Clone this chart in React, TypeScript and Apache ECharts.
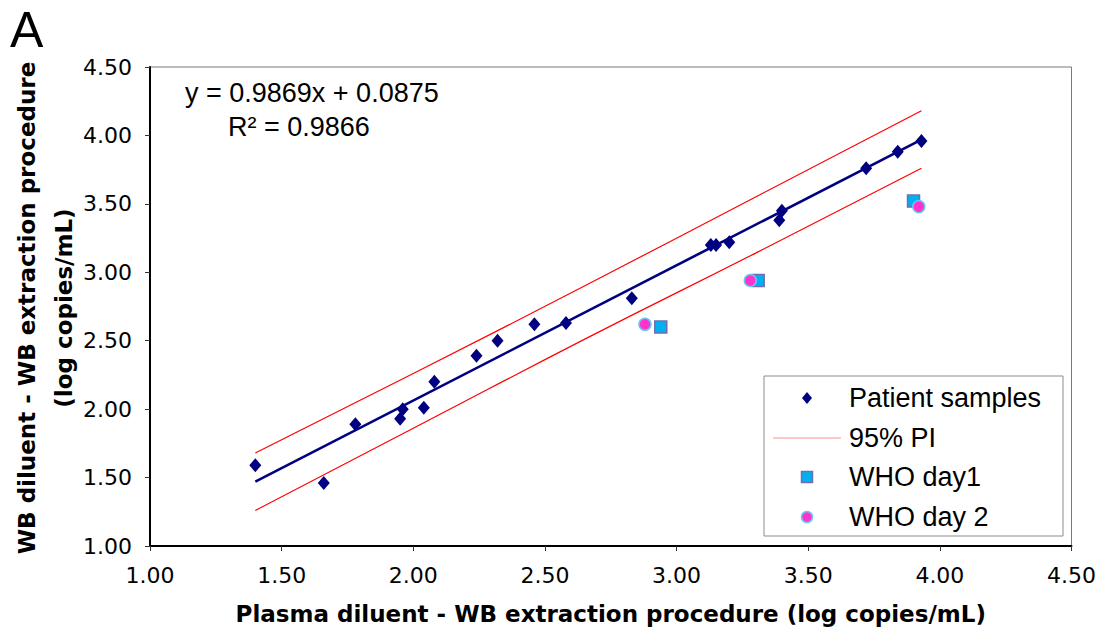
import React, { useEffect, useRef } from "react";
import * as echarts from "echarts";

const patientX = [1.40, 1.66, 1.78, 1.95, 1.96, 2.04, 2.08, 2.24, 2.32, 2.46, 2.58, 2.83, 3.13, 3.15, 3.20, 3.39, 3.40, 3.72, 3.84, 3.93];
const patientY = [1.59, 1.46, 1.89, 1.93, 2.00, 2.01, 2.20, 2.39, 2.50, 2.62, 2.63, 2.81, 3.20, 3.20, 3.22, 3.38, 3.45, 3.76, 3.88, 3.96];

const whoDay1X = [2.94, 3.31, 3.90];
const whoDay1Y = [2.60, 2.94, 3.52];
const whoDay2X = [2.88, 3.28, 3.92];
const whoDay2Y = [2.62, 2.94, 3.48];

const fitX = [1.40, 3.93];
const fitY = [1.47, 3.97];

const piX = [1.40, 2.00, 2.67, 3.30, 3.93];
const piUpper = [1.68, 2.26, 2.92, 3.55, 4.18];
const piLower = [1.26, 1.86, 2.53, 3.14, 3.76];

const tickValues = ["1.00", "1.50", "2.00", "2.50", "3.00", "3.50", "4.00", "4.50"];

const legendItems = ["Patient samples", "95% PI", "WHO day1", "WHO day 2"];
const equationText = "y = 0.9869x + 0.0875";
const r2Text = "R² = 0.9866";
const xTitle = "Plasma diluent - WB extraction procedure (log copies/mL)";
const yTitle = "WB diluent - WB extraction procedure\n(log copies/mL)";
const panelLabel = "A";

const zip = (xs: number[], ys: number[]) => xs.map((x, i) => [x, ys[i]]);

const NAVY = "#000080";
const TICK_FONT = "DejaVu Sans";
const TEXT_FONT = "Liberation Sans, Arial, sans-serif";

export default function App() {
  const ref = useRef<HTMLDivElement>(null);

  useEffect(() => {
    if (!ref.current) return;
    const chart = echarts.init(ref.current, undefined, { renderer: "svg" });

    const axisCommon = {
      type: "value" as const,
      min: 1,
      max: 4.5,
      interval: 0.5,
      splitLine: { show: false },
      axisLine: { show: true, onZero: false, lineStyle: { color: "#000", width: 2 } },
      axisTick: { show: true, length: 5, lineStyle: { color: "#333", width: 1 } },
      axisLabel: {
        fontSize: 22,
        fontFamily: TICK_FONT,
        color: "#000",
        margin: 18,
        formatter: (v: number) => tickValues[Math.round((v - 1) / 0.5)] ?? v.toFixed(2),
      },
    };

    const lx = 764, ly = 376;
    const legendRows = [398, 438, 477, 517];

    chart.setOption({
      animation: false,
      backgroundColor: "#fff",
      grid: {
        left: 150,
        top: 67,
        right: 26,
        bottom: 85,
        show: true,
        borderColor: "#7a7a7a",
        borderWidth: 1,
        backgroundColor: "transparent",
      },
      xAxis: {
        ...axisCommon,
        name: xTitle,
        nameLocation: "middle",
        nameGap: 56,
        nameTextStyle: { fontFamily: TICK_FONT, fontWeight: "bold", fontSize: 23, color: "#000" },
      },
      yAxis: { ...axisCommon },
      series: [
        {
          name: "95% PI upper",
          type: "line",
          data: zip(piX, piUpper),
          symbol: "none",
          smooth: true,
          lineStyle: { color: "#ff0000", width: 1.2 },
          z: 2,
        },
        {
          name: "95% PI lower",
          type: "line",
          data: zip(piX, piLower),
          symbol: "none",
          smooth: true,
          lineStyle: { color: "#ff0000", width: 1.2 },
          z: 2,
        },
        {
          name: "Fit",
          type: "line",
          data: zip(fitX, fitY),
          symbol: "none",
          lineStyle: { color: NAVY, width: 2.6 },
          z: 3,
        },
        {
          name: "Patient samples",
          type: "scatter",
          data: zip(patientX, patientY),
          symbol: "diamond",
          symbolSize: [12, 14],
          itemStyle: { color: NAVY, opacity: 1 },
          z: 4,
        },
        {
          name: "WHO day1",
          type: "scatter",
          data: zip(whoDay1X, whoDay1Y),
          symbol: "rect",
          symbolSize: 12,
          itemStyle: { color: "#00b0f0", borderColor: "#6f6fb0", borderWidth: 1.5, opacity: 1 },
          z: 5,
        },
        {
          name: "WHO day 2",
          type: "scatter",
          data: zip(whoDay2X, whoDay2Y),
          symbol: "circle",
          symbolSize: 12,
          itemStyle: { color: "#ff33cc", borderColor: "#66c8f0", borderWidth: 1.5, opacity: 1 },
          z: 6,
        },
      ],
      graphic: [
        {
          type: "text",
          x: 10,
          y: 30,
          style: { text: panelLabel, fontSize: 50, fontFamily: TEXT_FONT, fill: "#000", verticalAlign: "middle", align: "left" },
        },
        {
          type: "text",
          x: 45,
          y: 308,
          rotation: Math.PI / 2,
          style: {
            text: yTitle,
            fontSize: 23,
            fontWeight: "bold",
            fontFamily: TICK_FONT,
            fill: "#000",
            align: "center",
            verticalAlign: "middle",
            lineHeight: 37,
          },
        },
        {
          type: "text",
          x: 185,
          y: 93,
          style: { text: equationText, fontSize: 27, fontFamily: TEXT_FONT, fill: "#000", verticalAlign: "middle", align: "left" },
        },
        {
          type: "text",
          x: 228,
          y: 127,
          style: { text: r2Text, fontSize: 27, fontFamily: TEXT_FONT, fill: "#000", verticalAlign: "middle", align: "left" },
        },
        {
          type: "group",
          z: 100,
          children: [
            {
              type: "rect",
              shape: { x: lx, y: ly, width: 299, height: 160 },
              style: { fill: "#fff", stroke: "#8c8c8c", lineWidth: 1 },
            },
            {
              type: "polygon",
              shape: { points: [[807, legendRows[0] - 6], [812, legendRows[0]], [807, legendRows[0] + 6], [802, legendRows[0]]] },
              style: { fill: NAVY },
            },
            {
              type: "line",
              shape: { x1: 773, y1: legendRows[1], x2: 841, y2: legendRows[1] },
              style: { stroke: "#ff8f8f", lineWidth: 1 },
            },
            {
              type: "rect",
              shape: { x: 801.5, y: legendRows[2] - 5.5, width: 11, height: 11 },
              style: { fill: "#00b0f0", stroke: "#6f6fb0", lineWidth: 1.5 },
            },
            {
              type: "circle",
              shape: { cx: 807, cy: legendRows[3], r: 5.5 },
              style: { fill: "#ff33cc", stroke: "#66c8f0", lineWidth: 1.5 },
            },
            ...legendItems.map((t, i) => ({
              type: "text",
              x: 849,
              y: legendRows[i],
              style: { text: t, fontSize: 27, fontFamily: TEXT_FONT, fill: "#000", verticalAlign: "middle", align: "left" },
            })),
          ],
        },
      ],
    });

    return () => chart.dispose();
  }, []);

  return (
    <div
      ref={ref}
      style={{ position: "fixed", left: 0, top: 0, width: 1099, height: 631, background: "#fff" }}
    />
  );
}
